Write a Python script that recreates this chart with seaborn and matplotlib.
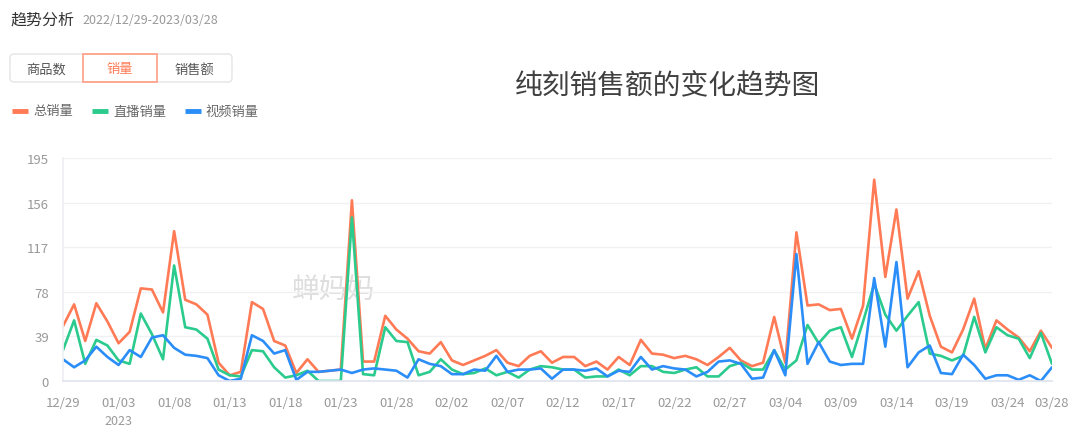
import numpy as np
import pandas as pd
import matplotlib
matplotlib.use("Agg")
import matplotlib.pyplot as plt
from matplotlib.patches import FancyBboxPatch, Rectangle
import seaborn as sns

# ---------------- data ----------------
dates = pd.date_range("2022-12-29", "2023-03-28", freq="D")
total_sales = [48, 67, 35, 68, 52, 33, 43, 81, 80, 60,
               131, 71, 67, 58, 16, 5, 8, 69, 63, 35,
               31, 7, 19, 8, 9, 10, 158, 17, 17, 57,
               45, 37, 26, 24, 34, 18, 14, 18, 22, 27,
               16, 13, 22, 26, 16, 21, 21, 13, 17, 10,
               21, 14, 36, 24, 23, 20, 22, 19, 14, 21,
               29, 18, 13, 16, 56, 16, 130, 66, 67, 62,
               63, 37, 66, 176, 91, 150, 72, 96, 57, 30,
               25, 45, 72, 28, 53, 45, 38, 26, 44, 29]
live_sales = [27, 53, 15, 36, 31, 18, 15, 59, 41, 19,
              101, 47, 45, 37, 10, 5, 4, 27, 26, 12,
              3, 5, 9, 0, 0, 0, 143, 6, 5, 47,
              35, 34, 5, 8, 19, 10, 6, 7, 11, 5,
              8, 3, 10, 13, 12, 10, 10, 3, 4, 4,
              10, 5, 13, 13, 8, 7, 10, 12, 4, 4,
              13, 16, 10, 10, 27, 10, 18, 49, 33, 44,
              47, 21, 52, 85, 58, 44, 57, 69, 24, 22,
              18, 22, 56, 25, 47, 40, 37, 20, 42, 15]
video_sales = [19, 12, 18, 30, 21, 14, 27, 21, 38, 40,
               29, 23, 22, 20, 5, 0, 2, 40, 35, 24,
               27, 1, 8, 8, 9, 10, 7, 10, 11, 10,
               9, 3, 19, 15, 13, 6, 6, 10, 9, 22,
               8, 10, 10, 11, 2, 10, 10, 9, 11, 4,
               9, 8, 21, 10, 13, 11, 10, 4, 8, 17,
               18, 15, 2, 3, 27, 5, 111, 15, 34, 17,
               14, 15, 15, 90, 30, 104, 12, 25, 31, 7,
               6, 23, 14, 2, 5, 5, 1, 5, 0, 12]
series_names = ["总销量", "直播销量", "视频销量"]
series_colors = ["#ff7a55", "#2bcb8e", "#2b8ef8"]
y_ticks = [0, 39, 78, 117, 156, 195]
tab_labels = ["商品数", "销量", "销售额"]

day_idx = np.arange(len(dates))
df = pd.DataFrame({
    "day": np.concatenate([day_idx] * 3),
    "value": np.concatenate([total_sales, live_sales, video_sales]),
    "series": np.repeat(series_names, len(dates)),
})

# ---------------- style ----------------
sns.set_theme(style="white")
plt.rcParams["font.family"] = ["Noto Sans CJK SC", "DejaVu Sans"]

W, H = 1080, 435
fig = plt.figure(figsize=(W / 100, H / 100), dpi=100)
fig.patch.set_facecolor("white")

# overlay (header, tabs, legend, watermark) drawn underneath
ov = fig.add_axes([0, 0, 1, 1], zorder=0)
ov.set_xlim(0, W)
ov.set_ylim(H, 0)
ov.axis("off")

ax = fig.add_axes([63 / W, 1 - 382 / H, (1052 - 63) / W, (382 - 159) / H], zorder=1)
ax.patch.set_alpha(0)
sns.lineplot(data=df, x="day", y="value", hue="series", hue_order=series_names,
             palette=series_colors, linewidth=1.9, legend=False, ax=ax,
             errorbar=None)

ax.set_xlim(0, len(dates) - 1)
ax.set_ylim(0, 195)
ax.set_yticks(y_ticks)
ax.set_yticklabels([str(v) for v in y_ticks], color="#999999", fontsize=9.5)
tick_pos = list(range(0, len(dates), 5)) + [len(dates) - 1]
ax.set_xticks(tick_pos)
ax.set_xticklabels([dates[i].strftime("%m/%d") for i in tick_pos],
                   color="#999999", fontsize=9.5)
ax.set_xlabel("")
ax.set_ylabel("")
ax.grid(axis="y", color="#f0f1f4", linewidth=1)
ax.grid(axis="x", visible=False)
for side in ["top", "right"]:
    ax.spines[side].set_visible(False)
ax.spines["left"].set_color("#eef0f4")
ax.spines["bottom"].set_color("#e0e4ee")
ax.tick_params(axis="x", length=5, color="#e0e4ee", pad=6)
ax.tick_params(axis="y", length=0, pad=10)
ax.set_axisbelow(True)

ov.text(10, 20, "趋势分析", fontsize=11.5, color="#333333", va="center", ha="left")
ov.text(82, 21, "2022/12/29-2023/03/28", fontsize=9, color="#999999",
        va="center", ha="left")

# tabs
tab_edges = [10, 83, 157, 232]
ov.add_patch(FancyBboxPatch((10, 55), 222, 28, boxstyle="round,pad=0,rounding_size=4",
                            facecolor="white", edgecolor="#e4e4e4", linewidth=1))
for i, lab in enumerate(tab_labels):
    cx = (tab_edges[i] + tab_edges[i + 1]) / 2
    col = "#ff7a55" if i == 1 else "#555555"
    ov.text(cx, 70, lab, fontsize=9.5, color=col, ha="center", va="center")
ov.add_patch(Rectangle((83, 55), 74, 28, facecolor="none", edgecolor="#ff9f85",
                       linewidth=1.2))

# legend
leg_x = [12, 92, 185]
for x0, name, col in zip(leg_x, series_names, series_colors):
    ov.plot([x0, x0 + 16], [112, 112], color=col, linewidth=3.5, solid_capstyle="butt")
    ov.text(x0 + 21, 112, name, fontsize=9.5, color="#666666", va="center", ha="left")

# big title
ov.text(668, 86, "纯刻销售额的变化趋势图", fontsize=20, color="#404040",
        ha="center", va="center")

# year label under first month tick
ov.text(118, 422, "2023", fontsize=9, color="#999999", ha="center", va="center")

# watermark
ov.text(292, 290, "蝉妈妈", fontsize=20, color="#dedede", ha="left", va="center")

fig.savefig("out.png", dpi=100, facecolor="white")
